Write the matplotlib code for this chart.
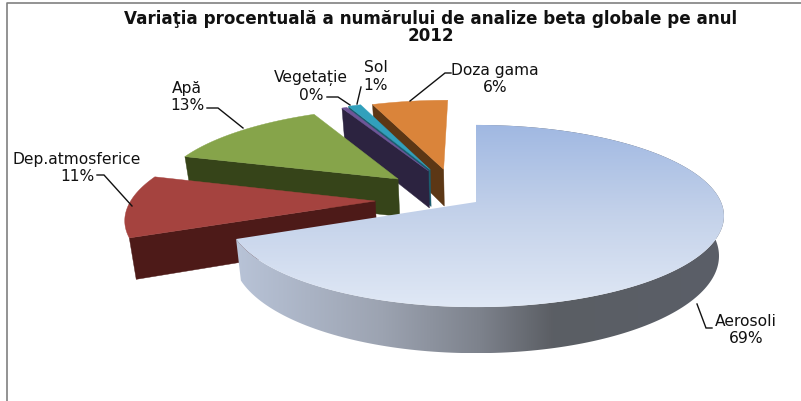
import numpy as np
import matplotlib
matplotlib.use("Agg")
import matplotlib.pyplot as plt
from matplotlib.colors import LinearSegmentedColormap
from matplotlib.patches import Polygon

# data, clockwise from 12 o'clock
labels = ["Aerosoli", "Dep.atmosferice", "Apă", "Vegetație", "Sol", "Doza gama"]
values = [68.6, 11.0, 13.0, 0.4, 1.0, 6.0]

# look of each slice
top_colors = ["#c5d3ec", "#a5433f", "#86a44a", "#6f5597", "#31a0bc", "#da843a"]
side_colors = ["#8a8f9a", "#4d1a18", "#364419", "#2c2340", "#1b5d6f", "#5c3715"]
explode = [(0.0, 0.0), (-0.412, 0.011), (-0.331, 0.269), (-0.205, 0.368), (-0.198, 0.385), (-0.14, 0.39)]

# where the label text and leader lines go (pixels)
label_pos = [(746, 322), (77, 160), (187, 88), (311, 78), (376, 68), (495, 70)]
leaders = [
    [(697, 305), (706, 329), (712, 329)],
    [(132, 207), (104, 176), (97, 176)],
    [(243, 129), (218, 109), (207, 109)],
    [(350, 106), (338, 98), (327, 98)],
    [(357, 105), (361, 88)],
    [(410, 102), (445, 74), (451, 74)],
]

# tilted pie with some perspective, far side is smaller
cx, cy = 476, 203
rx, ry = 245, 88.9
k = 0.154
depth = 39


def project(u, v, z=0.0):
    w = 1 + k * v
    shrink = 1 - 0.02 * z
    return cx + rx * u / w * shrink, cy - ry * v / w + depth * z / w


def gradient(ax, poly, c_list, zorder, horizontal=False):
    cmap = LinearSegmentedColormap.from_list("g", c_list)
    xs, ys = poly[:, 0], poly[:, 1]
    if horizontal:
        img = np.linspace(0, 1, 256).reshape(1, -1)
    else:
        img = np.linspace(0, 1, 256).reshape(-1, 1)
    im = ax.imshow(img, cmap=cmap, aspect="auto", interpolation="bilinear", zorder=zorder,
                   extent=(xs.min(), xs.max(), ys.max(), ys.min()))
    patch = Polygon(poly, closed=True, transform=ax.transData, fc="none", ec="none")
    ax.add_patch(patch)
    im.set_clip_path(patch)


fig = plt.figure(figsize=(8.01, 4.02), dpi=100)
ax = fig.add_axes([0, 0, 1, 1])
plt.rcParams["font.family"] = ["DejaVu Sans"]

fracs = np.cumsum([0] + values) / sum(values) * 2 * np.pi

# back slices first, the big one last
z = 1
for i in [5, 4, 3, 2, 1, 0]:
    a = np.linspace(fracs[i], fracs[i + 1], 200)
    ou, ov = explode[i]
    arc_u = ou + np.sin(a)
    arc_v = ov + np.cos(a)
    ax0 = np.array(project(ou, ov))
    bx0 = np.array(project(ou, ov, 1))
    tx, ty = project(arc_u, arc_v)
    bx, by = project(arc_u, arc_v, 1)
    top = np.vstack([ax0, np.column_stack([tx, ty])])
    arc_side = np.vstack([np.column_stack([tx, ty]), np.column_stack([bx, by])[::-1]])

    if i == 0:
        side_stops = [(0, "#b8c3d7"), (0.3, "#9ca3b1"), (0.5, "#7d828c"), (0.65, "#5b5e64"), (1, "#5a5f68")]
        gradient(ax, arc_side, side_stops, z, horizontal=True)
        gradient(ax, top, ["#a0b8e2", "#c4d2ea", "#e0e8f5"], z + 1)
    else:
        # only the face turned towards the viewer shows
        face = np.array([ax0, (tx[0], ty[0]), (bx[0], by[0]), bx0])
        ax.add_patch(Polygon(face, closed=True, fc=side_colors[i], ec=side_colors[i], lw=0.3, zorder=z))
        ax.add_patch(Polygon(top, closed=True, fc=top_colors[i], ec=top_colors[i], lw=0.3, zorder=z + 1))
    z += 2

# leader lines and labels
for i, name in enumerate(labels):
    pts = np.array(leaders[i])
    ax.plot(pts[:, 0], pts[:, 1], color="#111111", lw=1.0, solid_joinstyle="miter", zorder=30)
    x, y = label_pos[i]
    ax.text(x, y, name, ha="center", va="center", fontsize=11.2, color="#111111", zorder=31)
    ax.text(x, y + 17, f"{round(values[i])}%", ha="center", va="center", fontsize=11.2, color="#111111", zorder=31)

ax.text(431, 19, "Variaţia procentuală a numărului de analize beta globale pe anul",
        ha="center", va="center", fontsize=12.1, fontweight="bold", color="#111111")
ax.text(431, 36, "2012", ha="center", va="center", fontsize=12.1, fontweight="bold", color="#111111")

# chart frame
ax.plot([7, 7, 801], [402, 4, 4], color="#808080", lw=1.2, zorder=30)

ax.set_xlim(0, 801)
ax.set_ylim(402, 0)
ax.axis("off")
fig.savefig("out.png", dpi=100)
